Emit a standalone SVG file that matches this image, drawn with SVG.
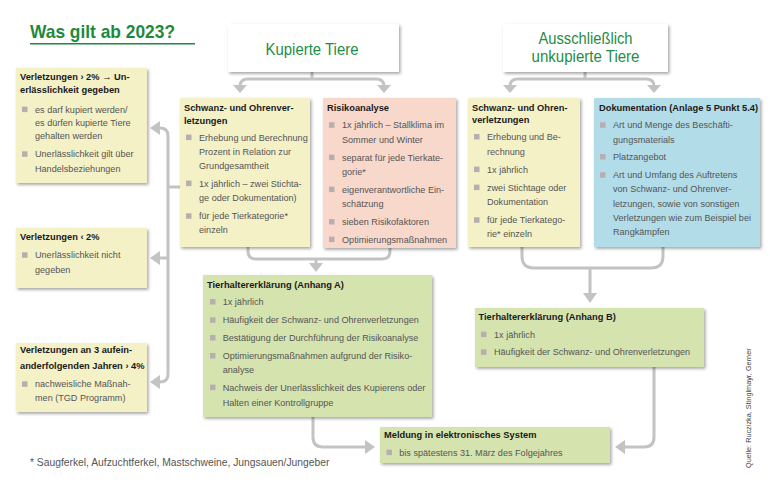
<svg xmlns="http://www.w3.org/2000/svg" width="770" height="488" viewBox="0 0 770 488">
<defs>
<filter id="sh" x="-10%" y="-10%" width="125%" height="130%">
<feDropShadow dx="1.5" dy="1.8" stdDeviation="1.4" flood-color="#000" flood-opacity="0.35"/>
</filter>
<style>
.by{fill:#f4f1c7}
.bp{fill:#f8d8cb}
.bb{fill:#b2dce8}
.bg{fill:#d5e3af}
.bw{fill:#ffffff}
text{font-family:'Liberation Sans',Arial,sans-serif}
.t{font-size:9.3px;font-weight:bold;fill:#1a1a1a}
.x{font-size:9.1px;fill:#555555}
.sq{fill:#b8adaf}
.hd{font-size:16.5px;fill:#1f8d45}
.ln{fill:none;stroke:#c3c3c3;stroke-width:3}
.ar{fill:#c3c3c3}
</style>
</defs>
<rect width="770" height="488" fill="#ffffff"/>

<g id="title">
<text x="30" y="37.5" font-size="19" font-weight="bold" fill="#1e8a3c" textLength="145" lengthAdjust="spacingAndGlyphs">Was gilt ab 2023?</text>
<line x1="30" y1="43.7" x2="195" y2="43.7" stroke="#1e8a3c" stroke-width="1.5"/>
</g>

<g id="connectors">
<path class="ln" d="M312,72 V79 M240,86 Q240,79 248,79 H376 Q384,79 384,86"/>
<polygon class="ar" points="233,85 247,85 240,93"/>
<polygon class="ar" points="377,85 391,85 384,93"/>
<path class="ln" d="M585,72 V79 M510,86 Q510,79 518,79 H646 Q654,79 654,86"/>
<polygon class="ar" points="503,85 517,85 510,93"/>
<polygon class="ar" points="647,85 661,85 654,93"/>
<path class="ln" d="M158,128 H160 Q168,128 168,136 V374 Q168,382 160,382 H158 M168,258 H158 M180,187 H168"/>
<polygon class="ar" points="150,128 160,121 160,135"/>
<polygon class="ar" points="150,258 160,251 160,265"/>
<polygon class="ar" points="150,382 160,375 160,389"/>
<path class="ln" d="M248,247 V251 Q248,259 256,259 H382 Q390,259 390,251 V248 M316,259 V264"/>
<polygon class="ar" points="309,263 323,263 316,272"/>
<path class="ln" d="M522,247 V256 Q522,268 534,268 H651 Q663,268 663,256 V247 M590,268 V294"/>
<polygon class="ar" points="583,293 597,293 590,303"/>
<path class="ln" d="M313,417 V437 Q313,447 323,447 H366"/>
<polygon class="ar" points="375,447 365,440 365,454"/>
<path class="ln" d="M654,367 V437 Q654,447 644,447 H624"/>
<polygon class="ar" points="615,447 625,440 625,454"/>
</g>

<g id="kupierte">
<rect class="bw" x="228" y="24" width="171" height="48" filter="url(#sh)"/>
<text class="hd" x="312" y="55" text-anchor="middle" textLength="93" lengthAdjust="spacingAndGlyphs">Kupierte Tiere</text>
</g>

<g id="unkupierte">
<rect class="bw" x="503" y="24" width="165" height="48" filter="url(#sh)"/>
<text class="hd" x="585.5" y="44.3" text-anchor="middle" textLength="94" lengthAdjust="spacingAndGlyphs">Ausschließlich</text>
<text class="hd" x="585.5" y="62" text-anchor="middle" textLength="108" lengthAdjust="spacingAndGlyphs">unkupierte Tiere</text>
</g>

<g id="verl-gt2">
<rect class="by" x="16" y="68" width="131" height="115" filter="url(#sh)"/>
<text class="t" x="20" y="80">Verletzungen › 2% → Un-</text>
<text class="t" x="20" y="92.6">erlässlichkeit gegeben</text>
<rect class="sq" x="22" y="106.6" width="5.5" height="5.5"/>
<text class="x" x="35" y="112.6">es darf kupiert werden/</text>
<text class="x" x="35" y="126">es dürfen kupierte Tiere</text>
<text class="x" x="35" y="139.3">gehalten werden</text>
<rect class="sq" x="22" y="151.3" width="5.5" height="5.5"/>
<text class="x" x="35" y="157.3">Unerlässlichkeit gilt über</text>
<text class="x" x="35" y="171.6">Handelsbeziehungen</text>
</g>

<g id="verl-lt2">
<rect class="by" x="16" y="228" width="131" height="60" filter="url(#sh)"/>
<text class="t" x="20" y="240">Verletzungen ‹ 2%</text>
<rect class="sq" x="22" y="252.3" width="5.5" height="5.5"/>
<text class="x" x="35" y="258.3">Unerlässlichkeit nicht</text>
<text class="x" x="35" y="272.6">gegeben</text>
</g>

<g id="verl-3jahre">
<rect class="by" x="16" y="343" width="131" height="69" filter="url(#sh)"/>
<text class="t" x="20" y="353.3">Verletzungen an 3 aufein-</text>
<text class="t" x="20" y="369.3">anderfolgenden Jahren › 4%</text>
<rect class="sq" x="22" y="381.3" width="5.5" height="5.5"/>
<text class="x" x="35" y="387.3">nachweisliche Maßnah-</text>
<text class="x" x="35" y="400.6">men (TGD Programm)</text>
</g>

<g id="schwanz-kup">
<rect class="by" x="180" y="98" width="130" height="149" filter="url(#sh)"/>
<text class="t" x="184" y="111">Schwanz- und Ohrenver-</text>
<text class="t" x="184" y="123.5">letzungen</text>
<rect class="sq" x="186" y="134.6" width="5.5" height="5.5"/>
<text class="x" x="199" y="140.6">Erhebung und Berechnung</text>
<text class="x" x="199" y="155">Prozent in Relation zur</text>
<text class="x" x="199" y="168.5">Grundgesamtheit</text>
<rect class="sq" x="186" y="180.6" width="5.5" height="5.5"/>
<text class="x" x="199" y="186.6">1x jährlich – zwei Stichta-</text>
<text class="x" x="199" y="201">ge oder Dokumentation)</text>
<rect class="sq" x="186" y="213.3" width="5.5" height="5.5"/>
<text class="x" x="199" y="219.3">für jede Tierkategorie*</text>
<text class="x" x="199" y="233.3">einzeln</text>
</g>

<g id="risikoanalyse">
<rect class="bp" x="323" y="98" width="133" height="150" filter="url(#sh)"/>
<text class="t" x="327" y="111">Risikoanalyse</text>
<rect class="sq" x="329" y="122.3" width="5.5" height="5.5"/>
<text class="x" x="342" y="128.3">1x jährlich – Stallklima im</text>
<text class="x" x="342" y="143.3">Sommer und Winter</text>
<rect class="sq" x="329" y="154.6" width="5.5" height="5.5"/>
<text class="x" x="342" y="160.6">separat für jede Tierkate-</text>
<text class="x" x="342" y="175">gorie*</text>
<rect class="sq" x="329" y="186.6" width="5.5" height="5.5"/>
<text class="x" x="342" y="192.6">eigenverantwortliche Ein-</text>
<text class="x" x="342" y="207.3">schätzung</text>
<rect class="sq" x="329" y="219" width="5.5" height="5.5"/>
<text class="x" x="342" y="225">sieben Risikofaktoren</text>
<rect class="sq" x="329" y="236.6" width="5.5" height="5.5"/>
<text class="x" x="342" y="242.6">Optimierungsmaßnahmen</text>
</g>

<g id="schwanz-unkup">
<rect class="by" x="468" y="98" width="112" height="149" filter="url(#sh)"/>
<text class="t" x="472" y="110.6">Schwanz- und Ohren-</text>
<text class="t" x="472" y="122.6">verletzungen</text>
<rect class="sq" x="474" y="134" width="5.5" height="5.5"/>
<text class="x" x="487" y="140">Erhebung und Be-</text>
<text class="x" x="487" y="155">rechnung</text>
<rect class="sq" x="474" y="166.6" width="5.5" height="5.5"/>
<text class="x" x="487" y="172.6">1x jährlich</text>
<rect class="sq" x="474" y="184.6" width="5.5" height="5.5"/>
<text class="x" x="487" y="190.6">zwei Stichtage oder</text>
<text class="x" x="487" y="205">Dokumentation</text>
<rect class="sq" x="474" y="217.3" width="5.5" height="5.5"/>
<text class="x" x="487" y="223.3">für jede Tierkatego-</text>
<text class="x" x="487" y="236.6">rie* einzeln</text>
</g>

<g id="dokumentation">
<rect class="bb" x="594" y="98" width="166" height="149" filter="url(#sh)"/>
<text class="t" x="599" y="110.6">Dokumentation (Anlage 5 Punkt 5.4)</text>
<rect class="sq" x="600" y="122.3" width="5.5" height="5.5"/>
<text class="x" x="613" y="128.3">Art und Menge des Beschäfti-</text>
<text class="x" x="613" y="142.6">gungsmaterials</text>
<rect class="sq" x="600" y="154" width="5.5" height="5.5"/>
<text class="x" x="613" y="160">Platzangebot</text>
<rect class="sq" x="600" y="172.3" width="5.5" height="5.5"/>
<text class="x" x="613" y="178.3">Art und Umfang des Auftretens</text>
<text class="x" x="613" y="192.3">von Schwanz- und Ohrenver-</text>
<text class="x" x="613" y="206.6">letzungen, sowie von sonstigen</text>
<text class="x" x="613" y="221">Verletzungen wie zum Beispiel bei</text>
<text class="x" x="613" y="235">Rangkämpfen</text>
</g>

<g id="anhang-a">
<rect class="bg" x="203" y="275" width="229" height="142" filter="url(#sh)"/>
<text class="t" x="207" y="287.6">Tierhaltererklärung (Anhang A)</text>
<rect class="sq" x="210" y="299" width="5.5" height="5.5"/>
<text class="x" x="222.7" y="305">1x jährlich</text>
<rect class="sq" x="210" y="317.3" width="5.5" height="5.5"/>
<text class="x" x="222.7" y="323.3">Häufigkeit der Schwanz- und Ohrenverletzungen</text>
<rect class="sq" x="210" y="335" width="5.5" height="5.5"/>
<text class="x" x="222.7" y="341">Bestätigung der Durchführung der Risikoanalyse</text>
<rect class="sq" x="210" y="353" width="5.5" height="5.5"/>
<text class="x" x="222.7" y="359">Optimierungsmaßnahmen aufgrund der Risiko-</text>
<text class="x" x="222.7" y="373.3">analyse</text>
<rect class="sq" x="210" y="384.6" width="5.5" height="5.5"/>
<text class="x" x="222.7" y="390.6">Nachweis der Unerlässlichkeit des Kupierens oder</text>
<text class="x" x="222.7" y="405.6">Halten einer Kontrollgruppe</text>
</g>

<g id="anhang-b">
<rect class="bg" x="475" y="308" width="229" height="59" filter="url(#sh)"/>
<text class="t" x="478.5" y="320">Tierhaltererklärung (Anhang B)</text>
<rect class="sq" x="481" y="331.6" width="5.5" height="5.5"/>
<text class="x" x="494" y="337.6">1x jährlich</text>
<rect class="sq" x="481" y="349.3" width="5.5" height="5.5"/>
<text class="x" x="494" y="355.3">Häufigkeit der Schwanz- und Ohrenverletzungen</text>
</g>

<g id="meldung">
<rect class="bg" x="380" y="427" width="230" height="36" filter="url(#sh)"/>
<text class="t" x="384" y="437.6">Meldung in elektronisches System</text>
<rect class="sq" x="386.5" y="449.6" width="5.5" height="5.5"/>
<text class="x" x="399.3" y="455.6">bis spätestens 31. März des Folgejahres</text>
</g>

<g id="footnote">
<text x="30" y="465.5" font-size="10.3" fill="#555555">* Saugferkel, Aufzuchtferkel, Mastschweine, Jungsauen/Jungeber</text>
</g>

<g id="source">
<text transform="translate(751,468) rotate(-90)" font-size="7.3" fill="#444444">Quelle: Ruczizka, Stinglmayr, Gerner</text>
</g>
</svg>
